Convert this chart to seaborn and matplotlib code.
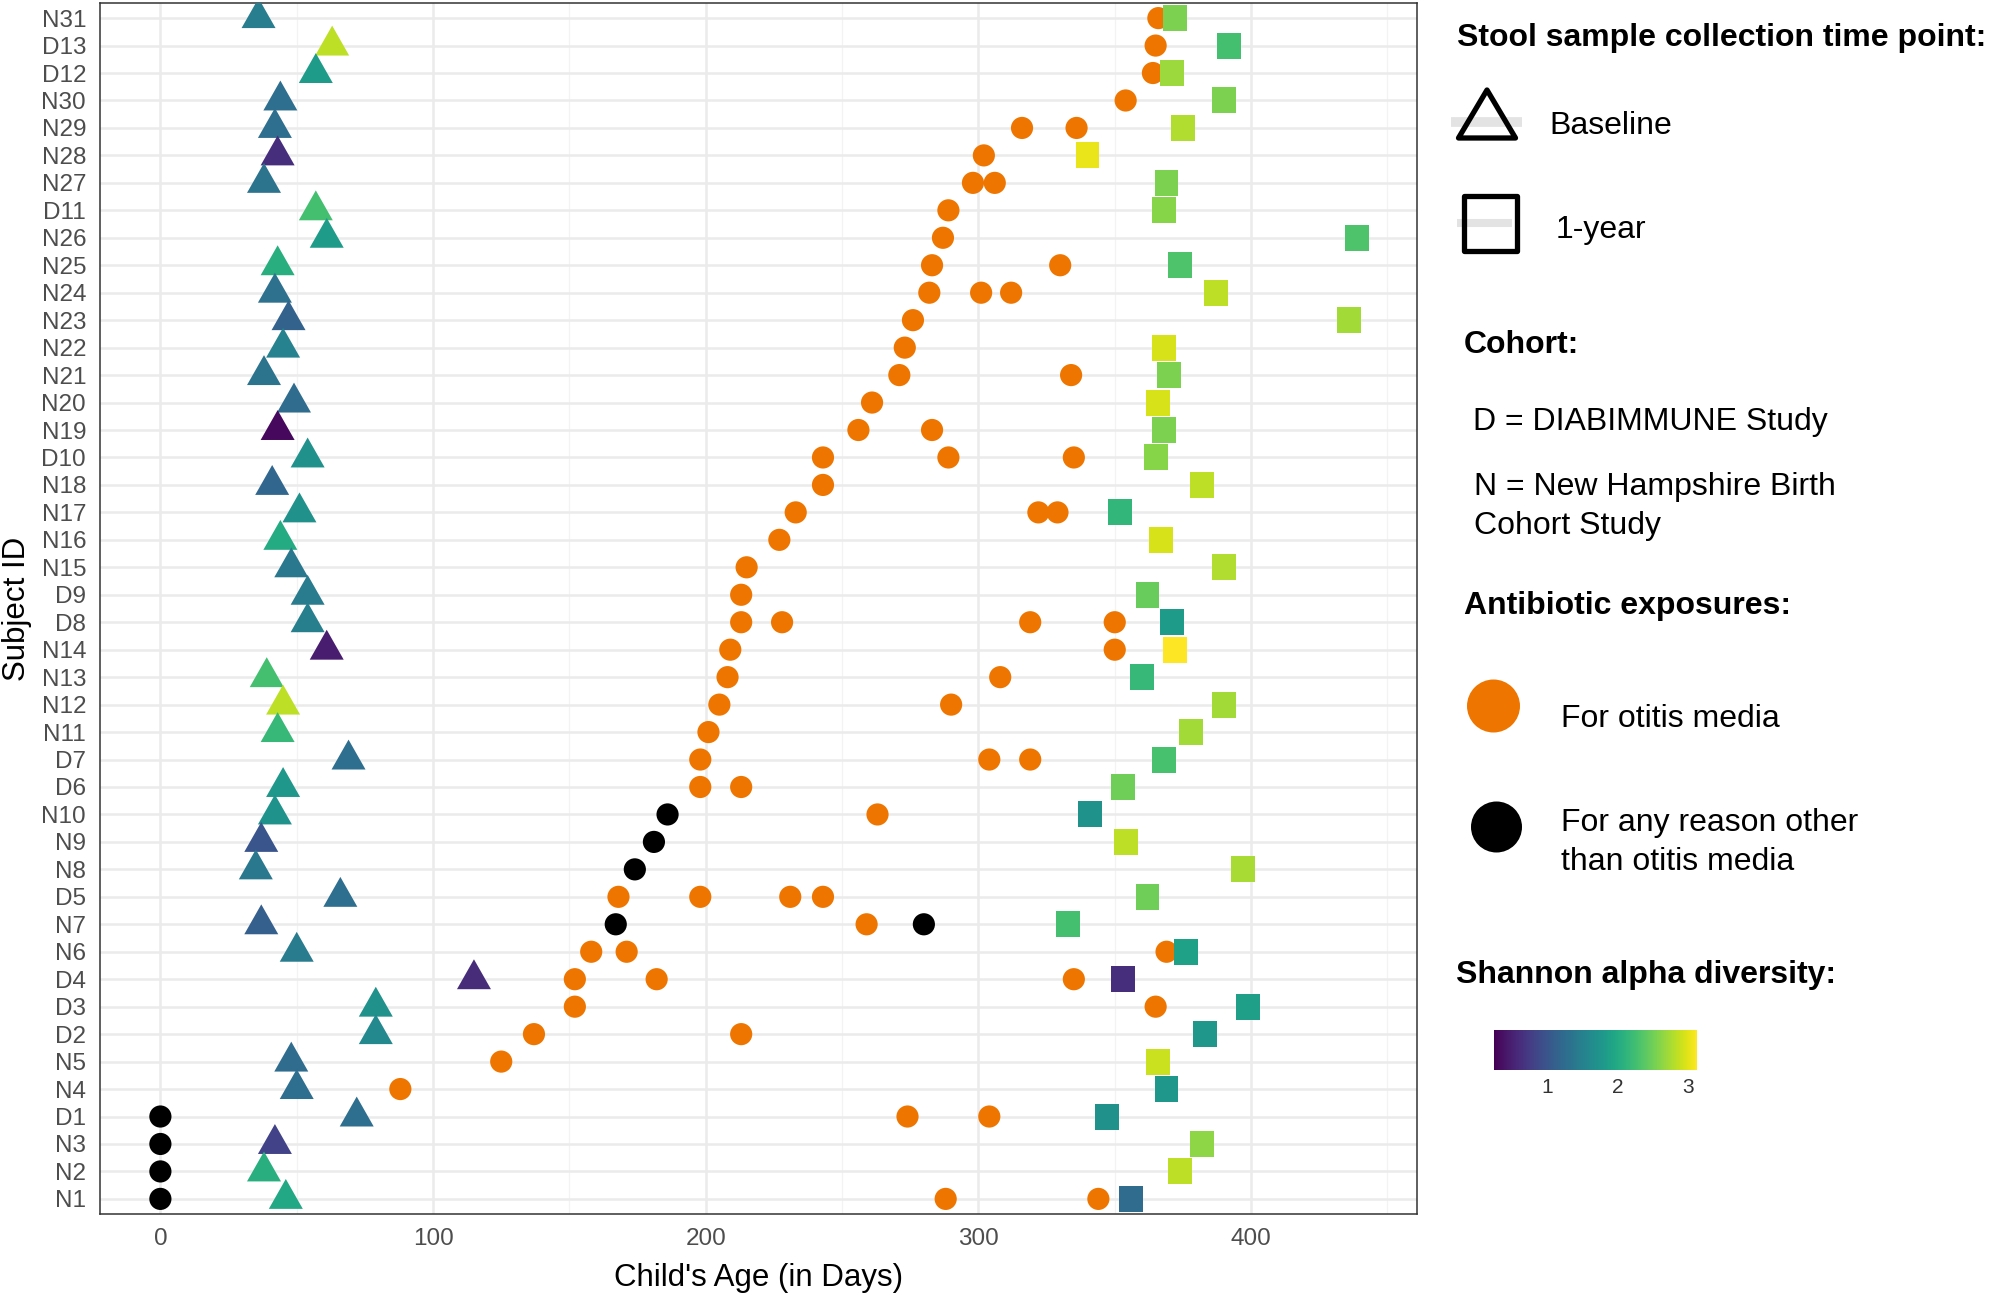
import numpy as np
import pandas as pd
import matplotlib
matplotlib.use("Agg")
import matplotlib.pyplot as plt
from matplotlib.path import Path
from matplotlib.markers import MarkerStyle
from matplotlib.patches import Polygon, Rectangle, Circle
from matplotlib.ticker import MultipleLocator
import seaborn as sns

# ---------------- data ----------------
subjects = ["N31", "D13", "D12", "N30", "N29", "N28", "N27", "D11", "N26", "N25",
            "N24", "N23", "N22", "N21", "N20", "N19", "D10", "N18", "N17", "N16",
            "N15", "D9", "D8", "N14", "N13", "N12", "N11", "D7", "D6", "N10",
            "N9", "N8", "D5", "N7", "N6", "D4", "D3", "D2", "N5", "N4",
            "D1", "N3", "N2", "N1"]

baseline_day = [36, 63, 57, 44, 42, 43, 38, 57, 61, 43,
                42, 47, 45, 38, 49, 43, 54, 41, 51, 44,
                48, 54, 54, 61, 39, 45, 43, 69, 45, 42,
                37, 35, 66, 37, 50, 115, 79, 79, 48, 50,
                72, 42, 38, 46]
baseline_shannon = [1.45, 2.83, 1.83, 1.28, 1.28, 0.62, 1.34, 2.26, 1.83, 2.06,
                    1.31, 1.14, 1.51, 1.34, 1.25, 0.31, 1.69, 1.20, 1.69, 2.00,
                    1.40, 1.43, 1.48, 0.48, 2.26, 2.83, 2.17, 1.28, 1.77, 1.71,
                    1.00, 1.40, 1.28, 1.11, 1.43, 0.60, 1.69, 1.60, 1.25, 1.28,
                    1.28, 0.82, 2.06, 1.97]

year_day = [372, 392, 371, 390, 375, 340, 369, 368, 439, 374,
            387, 436, 368, 370, 366, 368, 365, 382, 352, 367,
            390, 362, 371, 372, 360, 390, 378, 368, 353, 341,
            354, 397, 362, 333, 376, 353, 399, 383, 366, 369,
            347, 382, 374, 356]
year_shannon = [2.55, 2.26, 2.69, 2.55, 2.78, 3.03, 2.55, 2.60, 2.32, 2.32,
                2.83, 2.72, 2.95, 2.55, 2.95, 2.55, 2.60, 2.83, 2.14, 2.95,
                2.78, 2.45, 1.83, 3.12, 2.17, 2.72, 2.72, 2.29, 2.49, 1.71,
                2.83, 2.75, 2.49, 2.26, 1.89, 0.62, 1.86, 1.77, 2.89, 1.77,
                1.69, 2.63, 2.83, 1.25]

otitis_subject = ["N31", "D13", "D12", "N30", "N29", "N29", "N28", "N27", "N27", "D11",
                  "N26", "N25", "N25", "N24", "N24", "N24", "N23", "N22", "N21", "N21",
                  "N20", "N19", "N19", "D10", "D10", "D10", "N18", "N17", "N17", "N17",
                  "N16", "N15", "D9", "D8", "D8", "D8", "D8", "N14", "N14", "N13",
                  "N13", "N12", "N12", "N11", "D7", "D7", "D7", "D6", "D6", "N10",
                  "D5", "D5", "D5", "D5", "N7", "N6", "N6", "N6", "D4", "D4",
                  "D4", "D3", "D3", "D2", "D2", "N5", "N4", "D1", "D1", "N1", "N1"]
otitis_day = [366, 365, 364, 354, 316, 336, 302, 298, 306, 289,
              287, 283, 330, 282, 301, 312, 276, 273, 271, 334,
              261, 256, 283, 243, 289, 335, 243, 233, 322, 329,
              227, 215, 213, 213, 228, 319, 350, 209, 350, 208,
              308, 205, 290, 201, 198, 304, 319, 198, 213, 263,
              168, 198, 231, 243, 259, 158, 171, 369, 152, 182,
              335, 152, 365, 137, 213, 125, 88, 274, 304, 288, 344]

other_subject = ["N10", "N9", "N8", "N7", "N7", "D1", "N3", "N2", "N1"]
other_day = [186, 181, 174, 167, 280, 0, 0, 0, 0]

x_ticks = [0, 100, 200, 300, 400]
cbar_ticks = [1, 2, 3]

# ---------------- style ----------------
sns.set_style("white")
plt.rcParams["font.family"] = ["Liberation Sans", "DejaVu Sans"]

VMIN, VMAX = 0.25, 3.12
ORANGE = "#EE7600"
TXT = "#4D4D4D"

levels = subjects[::-1]  # bottom -> top


def cat(v):
    return pd.Categorical(v, categories=levels)


base_df = pd.DataFrame({"subject": cat(subjects), "day": baseline_day,
                        "shannon": baseline_shannon})
year_df = pd.DataFrame({"subject": cat(subjects), "day": year_day,
                        "shannon": year_shannon})
otitis_df = pd.DataFrame({"subject": cat(otitis_subject), "day": otitis_day})
other_df = pd.DataFrame({"subject": cat(other_subject), "day": other_day})

fig = plt.figure(figsize=(19.9, 12.95), dpi=100)
ax = fig.add_axes([100.4 / 1990, 1 - 1214 / 1295, 1317 / 1990, 1211 / 1295])

tri_marker = MarkerStyle(Path([(-1, -0.587), (1, -0.587), (0, 1.173), (-1, -0.587)],
                              closed=True))
sq_marker = MarkerStyle(Path([(-0.46, -0.5), (0.46, -0.5), (0.46, 0.5), (-0.46, 0.5),
                              (-0.46, -0.5)], closed=True))

# baseline layer first so the category order is registered bottom -> top
sns.scatterplot(data=base_df, x="day", y="subject", hue="shannon", palette="viridis",
                hue_norm=(VMIN, VMAX), marker=tri_marker, s=824, linewidth=0,
                edgecolor="none", legend=False, ax=ax, zorder=5)
sns.scatterplot(data=otitis_df, x="day", y="subject", color=ORANGE, marker="o",
                s=255, linewidth=0, edgecolor="none", legend=False, ax=ax, zorder=3)
sns.scatterplot(data=other_df, x="day", y="subject", color="black", marker="o",
                s=255, linewidth=0, edgecolor="none", legend=False, ax=ax, zorder=3)
sns.scatterplot(data=year_df, x="day", y="subject", hue="shannon", palette="viridis",
                hue_norm=(VMIN, VMAX), marker=sq_marker, s=350, linewidth=0,
                edgecolor="none", legend=False, ax=ax, zorder=4)

ax.set_xlim(-22, 461)
ax.set_ylim(-0.55, len(subjects) - 1 + 0.55)
ax.set_xticks(x_ticks)
ax.xaxis.set_minor_locator(MultipleLocator(50))
ax.set_axisbelow(True)
ax.grid(True, which="major", color="#EBEBEB", linewidth=1.8)
ax.grid(True, which="minor", axis="x", color="#F3F3F3", linewidth=0.9)
ax.tick_params(which="major", length=6.3, width=1.1, color="#333333",
               labelsize=17.5, labelcolor=TXT, pad=4)
ax.tick_params(which="minor", length=0)
for sp in ax.spines.values():
    sp.set_visible(True)
    sp.set_color("#333333")
    sp.set_linewidth(1.1)
ax.set_xlabel("Child's Age (in Days)", fontsize=22.5, color="black", labelpad=9)
ax.set_ylabel("Subject ID", fontsize=22.5, color="black", labelpad=7)

# ---------------- legend (drawn in pixel coordinates) ----------------
lax = fig.add_axes([0, 0, 1, 1], zorder=10)
lax.set_xlim(0, 1990)
lax.set_ylim(1295, 0)
lax.axis("off")

FS = 23
def t(x, y, s, bold=False):
    lax.text(x, y + 11, s, fontsize=FS, fontweight="bold" if bold else "normal",
             ha="left", va="baseline", color="black")

t(1457, 35, "Stool sample collection time point:", bold=True)
lax.plot([1451, 1522], [122, 122], color="#E3E3E3", lw=7, solid_capstyle="butt",
         zorder=1)
lax.add_patch(Polygon([(1487, 90), (1458.5, 138), (1515.5, 138)], closed=True,
                      facecolor="none", edgecolor="black", lw=3.8, joinstyle="round",
                      zorder=2))
t(1549, 123, "Baseline")
lax.plot([1457, 1512], [223, 223], color="#E3E3E3", lw=5.8, solid_capstyle="butt",
         zorder=1)
lax.add_patch(Rectangle((1464, 195.5), 53, 55, facecolor="none", edgecolor="black",
                        lw=3.8, joinstyle="round", zorder=2))
t(1556, 227, "1-year")
t(1464, 342, "Cohort:", bold=True)
t(1473, 419, "D = DIABIMMUNE Study")
t(1474, 484, "N = New Hampshire Birth")
t(1474, 523, "Cohort Study")
t(1464, 603, "Antibiotic exposures:", bold=True)
lax.add_patch(Circle((1493.5, 706), 26.5, facecolor=ORANGE, edgecolor="none"))
t(1561, 716, "For otitis media")
lax.add_patch(Circle((1496.5, 827), 25.5, facecolor="black", edgecolor="none"))
t(1561, 820, "For any reason other")
t(1561, 859, "than otitis media")
t(1456, 972, "Shannon alpha diversity:", bold=True)

cax = fig.add_axes([1494 / 1990, 1 - 1070 / 1295, 203 / 1990, 40 / 1295])
sm = plt.cm.ScalarMappable(cmap=sns.color_palette("viridis", as_cmap=True),
                           norm=plt.Normalize(VMIN, VMAX))
cb = fig.colorbar(sm, cax=cax, orientation="horizontal", ticks=cbar_ticks)
cb.outline.set_visible(False)
cax.tick_params(axis="x", which="both", direction="in", length=5, width=1.2,
                color="white", labelsize=15, labelcolor="#333333",
                top=True, bottom=True, pad=6)
cax.minorticks_off()

fig.savefig("out.png", dpi=100)
